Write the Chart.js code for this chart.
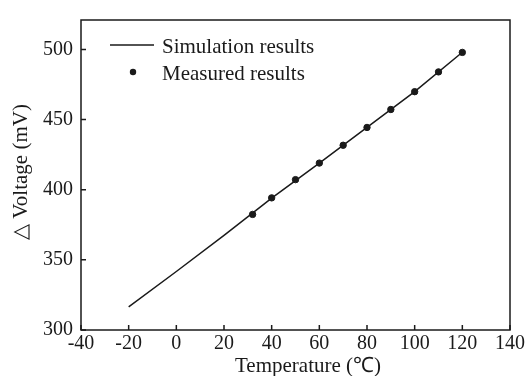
<!DOCTYPE html>
<html>
<head>
<meta charset="utf-8">
<script src="https://cdn.jsdelivr.net/npm/chart.js@4.4.0/dist/chart.umd.min.js"></script>
<style>
  html, body { margin: 0; padding: 0; background: #fff; }
  canvas { display: block; }
</style>
</head>
<body>
<canvas id="chart" width="529" height="376"></canvas>
<script>
// simulated curve
const simTemps = [-20, 0, 20, 40, 60, 80, 100, 120];
const simVolts = [316.5, 341.7, 367.5, 394, 419, 444.5, 470, 498];

// measured points
const measTemps = [32, 40, 50, 60, 70, 80, 90, 100, 110, 120];
const measVolts = [382.4, 394.2, 407.2, 419.0, 431.7, 444.4, 457.2, 469.9, 484.0, 497.9];

const xTicks = [-40, -20, 0, 20, 40, 60, 80, 100, 120, 140];
const yTicks = [300, 350, 400, 450, 500];

const FONT = '"Liberation Serif", "Times New Roman", serif';
const INK = '#1a1a1a';

// box, inward ticks, in-plot legend and axis titles
const framePlugin = {
  id: 'frame',
  afterDraw(chart) {
    const { ctx, chartArea: a, scales } = chart;
    ctx.save();
    ctx.strokeStyle = INK;
    ctx.lineWidth = 1.5;
    ctx.strokeRect(a.left, a.top, a.right - a.left, a.bottom - a.top);

    ctx.beginPath();
    scales.x.ticks.forEach(t => {
      const px = scales.x.getPixelForValue(t.value);
      ctx.moveTo(px, a.bottom);
      ctx.lineTo(px, a.bottom - 5);
    });
    scales.y.ticks.forEach(t => {
      const py = scales.y.getPixelForValue(t.value);
      ctx.moveTo(a.left, py);
      ctx.lineTo(a.left + 5, py);
    });
    ctx.stroke();

    // legend
    const ds = chart.data.datasets;
    ctx.fillStyle = INK;
    ctx.font = '21px ' + FONT;
    ctx.textBaseline = 'alphabetic';
    ctx.textAlign = 'left';
    ctx.beginPath();
    ctx.moveTo(110, 45);
    ctx.lineTo(154, 45);
    ctx.stroke();
    ctx.fillText(ds[0].label, 162, 53);
    ctx.beginPath();
    ctx.arc(133, 72, 3.2, 0, Math.PI * 2);
    ctx.fill();
    ctx.fillText(ds[1].label, 162, 80);

    // axis titles
    ctx.font = '21px ' + FONT;
    ctx.textAlign = 'center';
    ctx.textBaseline = 'middle';
    ctx.fillText('Temperature (\u2103)', 308, 366);
    ctx.translate(21, 172);
    ctx.rotate(-Math.PI / 2);
    ctx.fillText('\u25B3 Voltage (mV)', 0, 0);
    ctx.restore();
  }
};

new Chart(document.getElementById('chart'), {
  type: 'scatter',
  data: {
    datasets: [
      {
        label: 'Simulation results',
        data: simTemps.map((t, i) => ({ x: t, y: simVolts[i] })),
        showLine: true,
        borderColor: INK,
        borderWidth: 1.5,
        pointRadius: 0,
        tension: 0
      },
      {
        label: 'Measured results',
        data: measTemps.map((t, i) => ({ x: t, y: measVolts[i] })),
        showLine: false,
        backgroundColor: INK,
        borderColor: INK,
        pointRadius: 3.2
      }
    ]
  },
  options: {
    responsive: false,
    animation: false,
    layout: { padding: { left: 0, right: 19, top: 11, bottom: 0 } },
    plugins: { legend: { display: false }, tooltip: { enabled: false } },
    scales: {
      x: {
        type: 'linear',
        min: -40,
        max: 140,
        afterBuildTicks: s => { s.ticks = xTicks.map(v => ({ value: v })); },
        afterFit: s => { s.height = 46; },
        grid: { display: false, drawTicks: false },
        border: { display: false },
        ticks: { color: INK, font: { family: FONT, size: 20 }, padding: 2, maxRotation: 0 }
      },
      y: {
        min: 300,
        max: 521,
        afterBuildTicks: s => { s.ticks = yTicks.map(v => ({ value: v })); },
        afterFit: s => { s.width = 81; },
        grid: { display: false, drawTicks: false },
        border: { display: false },
        ticks: { color: INK, font: { family: FONT, size: 20 }, padding: 8 }
      }
    }
  },
  plugins: [framePlugin]
});
</script>
</body>
</html>
